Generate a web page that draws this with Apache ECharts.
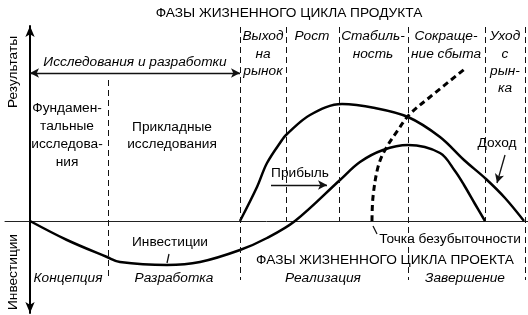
<!DOCTYPE html>
<html><head><meta charset="utf-8">
<script src="https://cdn.jsdelivr.net/npm/echarts@6/dist/echarts.min.js"></script>
<style>html,body{margin:0;padding:0;background:#fff}#c{width:528px;height:315px}</style>
</head><body><div id="c"></div>
<script>
// x: time from project start, y: money (+ results / - investments)
const profitCurve = [[0,0],[37,-19],[77,-36],[90,-41],[137,-44],[170,-41],[210,-29],[237,-17],[265,0],[310,41],[330,59],[353,71],[378,76],[410,68],[425,50],[434,36],[445,17],[455,0]];
const incomeCurve = [[210,0],[227,34],[237,58],[252,81],[256,86],[280,106],[312,117],[345,113],[378,104],[410,84],[434,61],[456,42],[475,23],[494,0]];
const breakevenCurve = [[342,0],[343,24],[348,54],[355,71],[368,91],[379,106],[400,124],[436,153]];
const phaseBounds = [78, 210, 256, 309, 378, 455, 495];
const productPhases = ['Выход\nна\nрынок','Рост','Стабиль-\nность','Сокраще-\nние сбыта','Уход\nс\nрын-\nка'];
const projectPhases = ['Концепция','Разработка','Реализация','Завершение'];
const researchPhases = ['Фундамен-\nтальные\nисследова-\nния','Прикладные\nисследования'];

const FONT = '13.7px "Liberation Sans", Arial, sans-serif';
const IFONT = 'italic 13.7px "Liberation Sans", Arial, sans-serif';
const chart = echarts.init(document.getElementById('c'));

// boundary extents [top, bottom] in y units
const boundExt = [[141,-59],[194,-59],[194,0],[194,0],[194,-59],[194,0],[194,-59]];
const boundLines = phaseBounds.map((x,i)=>[{coord:[x,boundExt[i][0]]},{coord:[x,boundExt[i][1]]}]);

function txt(text, x, y, font, opts){
  return Object.assign({type:'text', x:x, y:y, silent:true, style:{text:text, x:0, y:0, font:font, fill:'#000', align:'center', verticalAlign:'middle', lineHeight:17.5}}, opts||{});
}
function mtxt(text, x, yTop, font, lh){
  return {type:'text', x:x, y:yTop, silent:true, style:{text:text, x:0, y:0, font:font, fill:'#000', align:'center', verticalAlign:'top', lineHeight:lh}};
}

const prodX = [263, 312, 373, 446, 505];
const projX = [68, 174, 323, 465];

const graphics = [
  txt('ФАЗЫ ЖИЗНЕННОГО ЦИКЛА ПРОДУКТА', 289, 13, FONT),
  txt('Исследования и разработки', 135, 62, IFONT),
  txt('ФАЗЫ ЖИЗНЕННОГО ЦИКЛА ПРОЕКТА', 385, 260, FONT),
  txt('Точка безубыточности', 450, 239, FONT),
  txt('Инвестиции', 170, 242, FONT),
  txt('Прибыль', 300, 173, FONT),
  txt('Доход', 497, 143, FONT),
  txt('Результаты', 13, 72, FONT, {rotation: Math.PI/2}),
  txt('Инвестиции', 13, 272, FONT, {rotation: Math.PI/2}),
  mtxt(researchPhases[0], 67, 99, FONT, 18),
  mtxt(researchPhases[1], 172, 118, FONT, 17.5)
];
productPhases.forEach((t,i)=>graphics.push(mtxt(t, prodX[i], 28, IFONT, 17.3)));
projectPhases.forEach((t,i)=>graphics.push(txt(t, projX[i], 278, IFONT)));

const lineBase = {type:'line', smooth:0.35, symbol:'none', silent:true, animation:false};
chart.setOption({
  animation:false,
  grid:{left:5, right:0, top:26, height:287},
  xAxis:{type:'value', min:-25, max:498, axisLine:{onZero:true, lineStyle:{color:'#222', width:1}}, axisTick:{show:false}, axisLabel:{show:false}, splitLine:{show:false}},
  yAxis:{type:'value', min:-92, max:195, axisLine:{show:true, onZero:true, symbol:['arrow','arrow'], symbolSize:[7,11], lineStyle:{color:'#000', width:2}}, axisTick:{show:false}, axisLabel:{show:false}, splitLine:{show:false}},
  graphic: graphics,
  series:[
    Object.assign({}, lineBase, {data:profitCurve, lineStyle:{color:'#000', width:2.5},
      markLine:{silent:true, animation:false, symbol:['none','none'], label:{show:false},
        lineStyle:{color:'#111', width:1, type:[6,4]}, data: boundLines}}),
    Object.assign({}, lineBase, {data:incomeCurve, lineStyle:{color:'#000', width:2.5},
      markLine:{silent:true, animation:false, symbol:['none','arrow'], symbolSize:[7,9], label:{show:false},
        lineStyle:{color:'#111', width:1.3, type:'solid'},
        data:[
          [{coord:[241,36]},{coord:[297,36]}],
          [{coord:[475,66]},{coord:[467,38]}],
          [{coord:[0,148], symbol:'arrow'},{coord:[210,148]}],
          [{coord:[139,-33], symbol:'none'},{coord:[137,-42], symbol:'none'}],
          [{coord:[343,-5], symbol:'none'},{coord:[347,-13], symbol:'none'}]
        ]}}),
    Object.assign({}, lineBase, {data:breakevenCurve, lineStyle:{color:'#000', width:3, type:[6,4]}})
  ]
});
</script></body></html>
